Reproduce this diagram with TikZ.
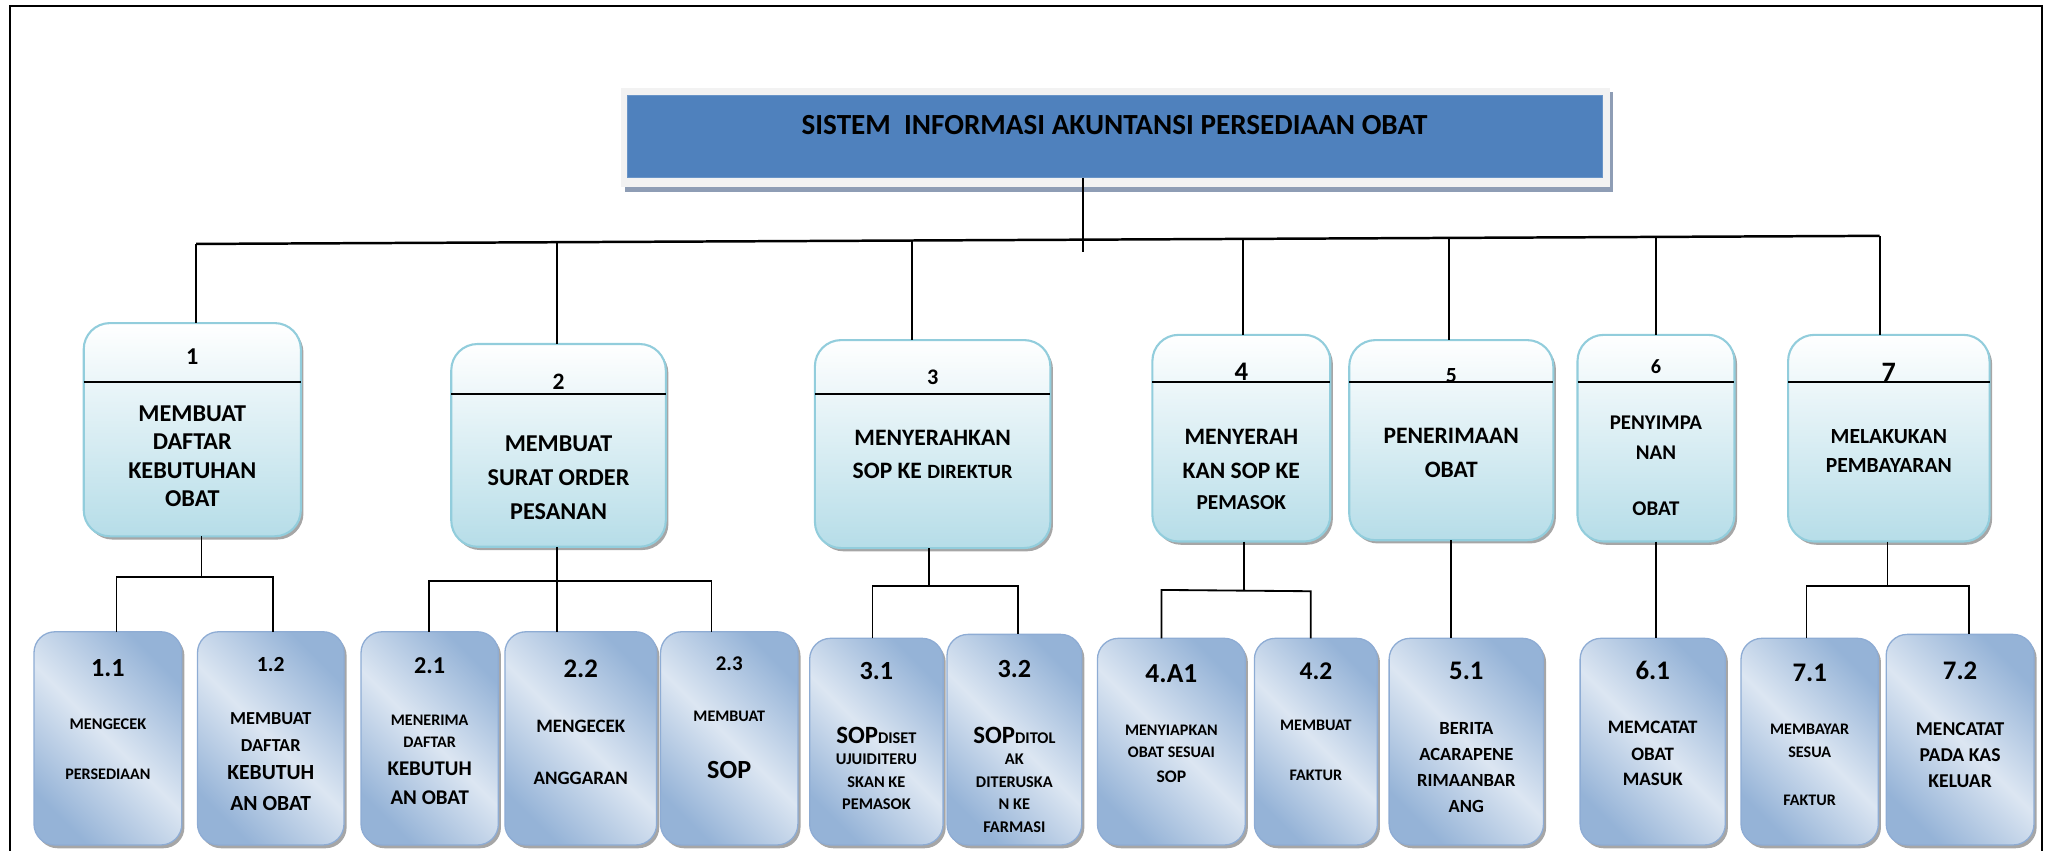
\documentclass[tikz,border=0pt]{standalone}
\usepackage{fontspec}
\setmainfont{Carlito}
\usetikzlibrary{shadows}

\definecolor{titleblue}{HTML}{4F81BD}
\definecolor{titlegray}{HTML}{F2F2F2}
\definecolor{titleshadow}{HTML}{8E9DB5}
\definecolor{oneborder}{HTML}{92CDDC}
\definecolor{onebottom}{HTML}{B6DDE8}
\definecolor{twodark}{HTML}{95B3D7}
\definecolor{twolight}{HTML}{DCE6F2}
\definecolor{twoborder}{HTML}{8EACD4}
\definecolor{boxshadow}{HTML}{9C9C9C}

\tikzset{
  tsz/.style={font=\bfseries\fontsize{#1}{#1}\selectfont},
  lbl/.style={inner sep=0pt, outer sep=0pt, text depth=0pt, text=black},
  titleframe/.style={fill=titlegray, draw=none, inner sep=0pt, outer sep=0pt,
    drop shadow={shadow xshift=2.5pt, shadow yshift=-3.5pt, fill=titleshadow, opacity=1}},
  titlebox/.style={fill=titleblue, draw=titleblue!85!white, line width=0.8pt,
    inner sep=0pt, outer sep=0pt},
  lvone/.style={draw=oneborder, line width=1.6pt, rounded corners=20pt,
    top color=white, bottom color=onebottom, inner sep=0pt, outer sep=0pt,
    drop shadow={shadow xshift=2pt, shadow yshift=-2.5pt, fill=boxshadow, opacity=0.9}},
  lvtwo/.style={draw=twoborder, line width=1pt, rounded corners=16pt,
    top color=twodark, bottom color=twodark, middle color=twolight, shading angle=-45,
    inner sep=0pt, outer sep=0pt,
    drop shadow={shadow xshift=2pt, shadow yshift=-2.5pt, fill=boxshadow, opacity=0.9}},
  conn/.style={line width=1.4pt, draw=black},
  busline/.style={line width=1.9pt, draw=black},
  frameline/.style={line width=1.5pt, draw=black}
}

% one text line per entry: y / font size / text, centred on the box
\newcommand\boxlines[2]{%
  \foreach \ly/\lsz/\ltx [count=\k] in {#2} {%
    \node[lbl, tsz=\lsz] (#1-\k) at (#1.center |- 0,\ly) {\ltx};}}

\begin{document}
\begin{tikzpicture}[x=1pt, y=-1pt]
\useasboundingbox (0,0) rectangle (1568,650);
\clip (0,0) rectangle (1568,650);

% page frame
\draw[frameline] (7.6,4.6) rectangle (1561,700);

% title
\node[titleframe, minimum width=756, minimum height=76] (frame0) at (853,105) {};
\node[titlebox, minimum width=745, minimum height=63] (title) at (852.5,104.5) {};
\node[lbl, tsz=22.3] (title-1) at (852,95.8) {SISTEM~~INFORMASI AKUNTANSI PERSEDIAAN OBAT};

% first level processes
\node[lvone, minimum width=166, minimum height=163] (n1) at (147,328.5) {};
\node[lvone, minimum width=164, minimum height=155] (n2) at (427,340.5) {};
\node[lvone, minimum width=180, minimum height=159] (n3) at (713,339.5) {};
\node[lvone, minimum width=136, minimum height=158] (n4) at (949,335) {};
\node[lvone, minimum width=156, minimum height=153] (n5) at (1109.5,336.5) {};
\node[lvone, minimum width=120, minimum height=158] (n6) at (1266,335) {};
\node[lvone, minimum width=154, minimum height=158] (n7) at (1444,335) {};

\foreach \b/\dy in {n1/292,n2/301,n3/301,n4/292,n5/292,n6/292,n7/292}
  \draw[conn] (\b.west |- 0,\dy) -- (\b.east |- 0,\dy);

\boxlines{n1}{273/18.5/1, 316/18.5/MEMBUAT, 338/18.5/DAFTAR, 359.5/18.5/KEBUTUHAN, 381/18.5/OBAT}
\boxlines{n2}{292/18/2, 339.5/18.5/MEMBUAT, 365/18.5/SURAT ORDER, 391/18.5/PESANAN}
\boxlines{n3}{288/17/3, 335/18/MENYERAHKAN, 360/18/{SOP KE {\fontsize{15.5}{15.5}\selectfont DIREKTUR}}}
\boxlines{n4}{284/20.5/4, 334/18/MENYERAH, 360/18/KAN SOP KE, 384/16.3/PEMASOK}
\boxlines{n5}{287/16.5/5, 333/18/PENERIMAAN, 359/18/OBAT}
\boxlines{n6}{280/15.5/6, 323/16/PENYIMPA, 346/16/NAN, 389/16/OBAT}
\boxlines{n7}{285/21.5/7, 334/16.5/MELAKUKAN, 355.5/16.5/PEMBAYARAN}

% second level processes
\node[lvtwo, minimum width=113, minimum height=163] (n11) at (82.5,564.5) {};
\node[lvtwo, minimum width=112, minimum height=163] (n12) at (207,564.5) {};
\node[lvtwo, minimum width=105, minimum height=163] (n21) at (328.5,564.5) {};
\node[lvtwo, minimum width=116, minimum height=163] (n22) at (444,564.5) {};
\node[lvtwo, minimum width=105, minimum height=163] (n23) at (557.5,564.5) {};
\node[lvtwo, minimum width=102, minimum height=158] (n31) at (670,567) {};
\node[lvtwo, minimum width=103, minimum height=161] (n32) at (775.5,565.5) {};
\node[lvtwo, minimum width=113, minimum height=158] (n41) at (895.5,567) {};
\node[lvtwo, minimum width=94, minimum height=158] (n42) at (1006,567) {};
\node[lvtwo, minimum width=118, minimum height=158] (n51) at (1121,567) {};
\node[lvtwo, minimum width=111, minimum height=158] (n61) at (1263.5,567) {};
\node[lvtwo, minimum width=105, minimum height=158] (n71) at (1383.5,567) {};
\node[lvtwo, minimum width=113, minimum height=161] (n72) at (1498.5,565.5) {};

\boxlines{n11}{511/20/1.1, 553.8/12.5/MENGECEK, 591.7/12.3/PERSEDIAAN}
\boxlines{n12}{507.6/16.5/1.2, 549/14/MEMBUAT, 569.6/14/DAFTAR, 590.7/16.5/KEBUTUH, 614/16.5/AN OBAT}
\boxlines{n21}{509/18.5/2.1, 550.7/12.3/MENERIMA, 567.8/12.3/DAFTAR, 587.7/16/KEBUTUH, 610/16/AN OBAT}
\boxlines{n22}{511/20.5/2.2, 555.6/14.5/MENGECEK, 595.3/14.5/ANGGARAN}
\boxlines{n23}{507/16/2.3, 547.4/12.3/MEMBUAT, 588.7/20/SOP}
\boxlines{n31}{512.7/20/3.1, 562.4/19/{SOP{\fontsize{12.5}{12.5}\selectfont DISET}}, 580.5/12.5/UJUIDITERU, 597.6/12.5/SKAN KE, 614.7/12.5/PEMASOK}
\boxlines{n32}{511.7/20/3.2, 562/19/{SOP{\fontsize{12.5}{12.5}\selectfont DITOL}}, 580.5/12.5/AK, 597.6/12.5/DITERUSKA, 614.7/12.5/N KE, 632/12.5/FARMASI}
\boxlines{n41}{515.3/21/4.A1, 558/12.3/MENYIAPKAN, 575.4/12.3/OBAT SESUAI, 593.8/13.5/SOP}
\boxlines{n42}{512.7/19.5/4.2, 554.3/12.3/MEMBUAT, 592.5/12.3/FAKTUR}
\boxlines{n51}{512.7/20.5/5.1, 557.3/14.2/BERITA, 576.7/14.2/ACARAPENE, 596.9/14.2/RIMAANBAR, 616.7/14.2/ANG}
\boxlines{n61}{512.7/20.5/6.1, 556.3/14.5/MEMCATAT, 576.5/14.5/OBAT, 595.8/14.5/MASUK}
\boxlines{n71}{514.3/20.5/7.1, 557.6/12.3/MEMBAYAR, 574.7/12.3/SESUA, 611.6/12.3/FAKTUR}
\boxlines{n72}{512.7/20.5/7.2, 557.6/15/MENCATAT, 577.2/15/PADA KAS, 596.9/15/KELUAR}

% main bus from the title to the first level
\coordinate (top) at (828,192.4);
\coordinate (b1) at (150,186.5);
\coordinate (b2) at (426,185.2);
\coordinate (b3) at (697,183.9);
\coordinate (b4) at (950,182.65);
\coordinate (b5) at (1108,181.9);
\coordinate (b6) at (1266,181.1);
\coordinate (b7) at (1437,180.3);
\draw[conn] (title.south -| top) -- (top);
\draw[busline] (b1) -- (b7);
\foreach \i in {1,...,7} \draw[conn] (b\i) -- (b\i |- n\i.north);

% branches to the second level
\coordinate (c1) at (154,441); \coordinate (c1a) at (89,441); \coordinate (c1b) at (209,441);
\draw[conn] (c1 |- n1.south) -- (c1);
\draw[conn] (c1a |- n11.north) -- (c1a) -- (c1b) -- (c1b |- n12.north);

\coordinate (c2) at (426,444); \coordinate (c2a) at (328,444); \coordinate (c2c) at (544,444);
\draw[conn] (c2 |- n2.south) -- (c2 |- n22.north);
\draw[conn] (c2a |- n21.north) -- (c2a) -- (c2c) -- (c2c |- n23.north);

\coordinate (c3) at (710,448); \coordinate (c3a) at (667,448); \coordinate (c3b) at (778,448);
\draw[conn] (c3 |- n3.south) -- (c3);
\draw[conn] (c3a |- n31.north) -- (c3a) -- (c3b) -- (c3b |- n32.north);

\coordinate (c4) at (951,451.5); \coordinate (c4a) at (888,451); \coordinate (c4b) at (1002,452);
\draw[conn] (c4 |- n4.south) -- (c4);
\draw[conn] (c4a |- n41.north) -- (c4a) -- (c4b) -- (c4b |- n42.north);

\coordinate (c5) at (1109,450);
\draw[conn] (c5 |- n5.south) -- (c5 |- n51.north);
\coordinate (c6) at (1266,450);
\draw[conn] (c6 |- n6.south) -- (c6 |- n61.north);

\coordinate (c7) at (1443,448); \coordinate (c7a) at (1381,448); \coordinate (c7b) at (1505,448);
\draw[conn] (c7 |- n7.south) -- (c7);
\draw[conn] (c7a |- n71.north) -- (c7a) -- (c7b) -- (c7b |- n72.north);
\end{tikzpicture}
\end{document}
